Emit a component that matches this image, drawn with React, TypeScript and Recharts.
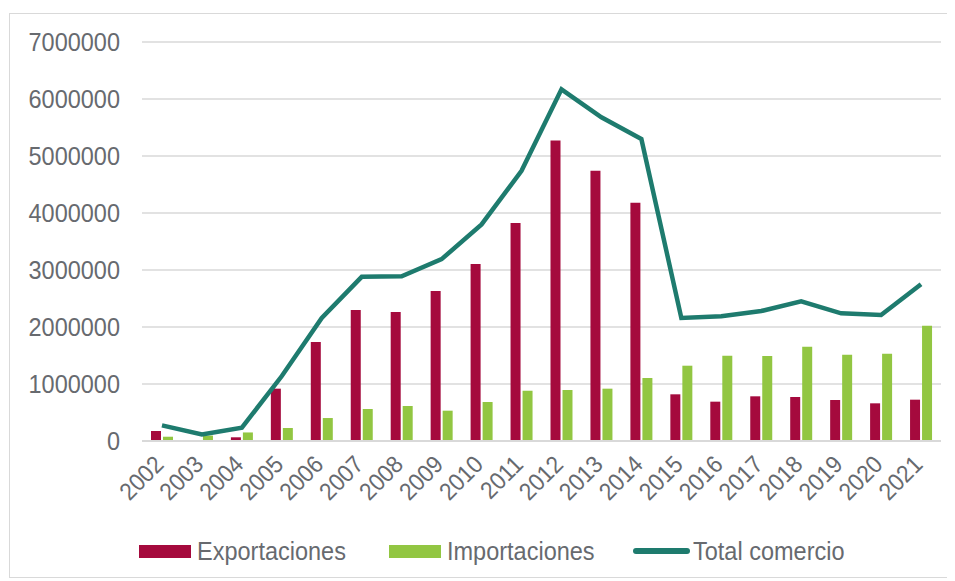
import { Bar, CartesianGrid, ComposedChart, Legend, Line, XAxis, YAxis } from 'recharts';

const years = [
  '2002', '2003', '2004', '2005', '2006', '2007', '2008', '2009', '2010', '2011',
  '2012', '2013', '2014', '2015', '2016', '2017', '2018', '2019', '2020', '2021',
];

const exportaciones = [
  175000, 15000, 65000, 918000, 1737000, 2298000, 2263000, 2632000, 3105000, 3825000,
  5270000, 4740000, 4180000, 819000, 690000, 784000, 772000, 719000, 661000, 725000,
];

const importaciones = [
  75000, 95000, 150000, 228000, 403000, 561000, 614000, 532000, 684000, 882000,
  895000, 918000, 1105000, 1321000, 1497000, 1491000, 1655000, 1514000, 1532000, 2023000,
];

const totalComercio = [
  275000, 114000, 233000, 1140000, 2160000, 2880000, 2890000, 3190000, 3800000, 4740000,
  6170000, 5680000, 5300000, 2160000, 2190000, 2280000, 2450000, 2240000, 2210000, 2750000,
];

const yTicks = [0, 1000000, 2000000, 3000000, 4000000, 5000000, 6000000, 7000000];

const COLORS = {
  exp: '#A50A3D',
  imp: '#92C642',
  total: '#1E7B6E',
  text: '#676A6F',
  grid: '#D9D9D9',
};

const FONT = '"Liberation Sans", Arial, sans-serif';

const data = years.map((year, i) => ({
  year,
  exportaciones: exportaciones[i],
  importaciones: importaciones[i],
  total: totalComercio[i],
}));

// reference glyphs are a bit taller than Arial, so stretch them slightly
function YearTick({ x, y, payload }: any) {
  const ax = x + 3;
  const ay = y + 25;
  return (
    <g transform={`translate(${ax}, ${ay}) rotate(-45) scale(1, 1.08)`}>
      <text x={0} y={0} textAnchor="end" fill={COLORS.text} fontSize={22.5} fontFamily={FONT}>
        {payload.value}
      </text>
    </g>
  );
}

function ValueTick({ x, y, payload }: any) {
  return (
    <g transform={`translate(${x}, ${y}) scale(1, 1.12)`}>
      <text x={0} y={0} dy="0.355em" textAnchor="end" fill={COLORS.text} fontSize={23.5} fontFamily={FONT}>
        {payload.value}
      </text>
    </g>
  );
}

const legendItems = [
  { key: 'exportaciones', label: 'Exportaciones', left: 129, kind: 'bar', color: COLORS.exp },
  { key: 'importaciones', label: 'Importaciones', left: 379, kind: 'bar', color: COLORS.imp },
  { key: 'total', label: 'Total comercio', left: 623, kind: 'line', color: COLORS.total },
];

function ChartLegend() {
  return (
    <div style={{ position: 'relative', height: 26, width: 940 }}>
      {legendItems.map((it) => (
        <div
          key={it.key}
          style={{
            position: 'absolute',
            left: it.left,
            top: 0,
            height: 26,
            display: 'flex',
            alignItems: 'center',
            fontFamily: FONT,
            fontSize: 23.5,
            color: COLORS.text,
            whiteSpace: 'nowrap',
          }}
        >
          {it.kind === 'bar' ? (
            <span style={{ width: 52, height: 13, background: it.color, marginRight: 6, display: 'inline-block' }} />
          ) : (
            <span style={{ width: 57, height: 6, borderRadius: 3, background: it.color, marginRight: 3, display: 'inline-block' }} />
          )}
          <span style={{ display: 'inline-block', transform: 'scaleY(1.1)' }}>{it.label}</span>
        </div>
      ))}
    </div>
  );
}

export default function App() {
  return (
    <div style={{ marginLeft: 1, marginTop: 5, width: 940, height: 563, border: `1px solid ${COLORS.grid}` }}>
      <ComposedChart
        width={940}
        height={563}
        data={data}
        margin={{ top: 28, right: 9, left: 0, bottom: 0 }}
        barSize={10}
        barGap={2}
      >
        <CartesianGrid vertical={false} stroke={COLORS.grid} strokeWidth={1.5} />
        <XAxis
          dataKey="year"
          height={96}
          interval={0}
          tickLine={false}
          tickSize={0}
          tickMargin={0}
          axisLine={{ stroke: COLORS.grid, strokeWidth: 2 }}
          tick={<YearTick />}
        />
        <YAxis
          width={132}
          domain={[0, 7000000]}
          ticks={yTicks}
          interval={0}
          tickLine={false}
          axisLine={false}
          tickSize={0}
          tickMargin={22}
          tick={<ValueTick />}
        />
        <Legend
          verticalAlign="bottom"
          height={40}
          wrapperStyle={{ top: 524, left: 0, width: 940 }}
          content={() => <ChartLegend />}
        />
        <Bar dataKey="exportaciones" name="Exportaciones" fill={COLORS.exp} isAnimationActive={false} />
        <Bar dataKey="importaciones" name="Importaciones" fill={COLORS.imp} isAnimationActive={false} />
        <Line
          dataKey="total"
          name="Total comercio"
          type="linear"
          stroke={COLORS.total}
          strokeWidth={4.5}
          dot={false}
          activeDot={false}
          isAnimationActive={false}
        />
      </ComposedChart>
    </div>
  );
}
